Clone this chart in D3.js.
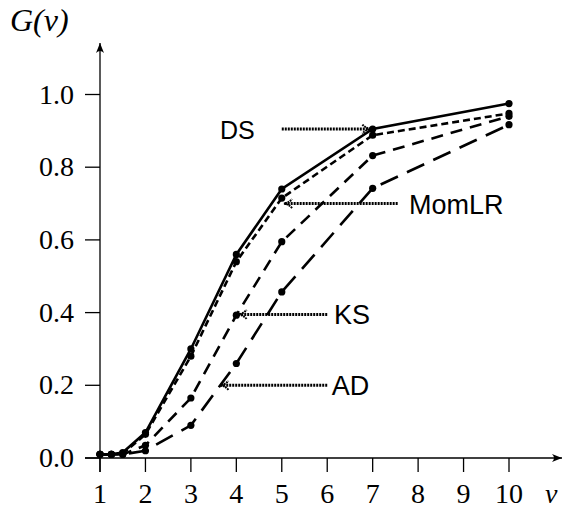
<!DOCTYPE html>
<html>
<head>
<meta charset="UTF-8">
<script src="https://d3js.org/d3.v7.min.js"></script>
<style>
  body { margin: 0; background: white; }
</style>
</head>
<body>
<svg id="chart"></svg>
<script>
// values
const vValues = [1, 1.25, 1.5, 2, 3, 4, 5, 7, 10];
const dsValues    = [0.01, 0.01, 0.015, 0.07, 0.30, 0.56, 0.74, 0.905, 0.975];
const momlrValues = [0.01, 0.01, 0.012, 0.065, 0.28, 0.54, 0.715, 0.888, 0.948];
const ksValues    = [0.01, 0.01, 0.01, 0.035, 0.165, 0.393, 0.595, 0.832, 0.94];
const adValues    = [0.01, 0.01, 0.01, 0.02, 0.09, 0.26, 0.457, 0.742, 0.917];
const seriesNames = ["DS", "MomLR", "KS", "AD"];
const xTicks = [1, 2, 3, 4, 5, 6, 7, 8, 9, 10];
const yTicks = [0, 0.2, 0.4, 0.6, 0.8, 1.0];

// label annotations: text, label x, arrow start x, arrow end x, y (data units)
const noteLabels = ["DS", "MomLR", "KS", "AD"];
const noteLabelX = [3.64, 7.8, 6.15, 6.1];
const noteFromX  = [5.0, 7.55, 6.0, 6.0];
const noteToX    = [6.95, 5.05, 4.05, 3.65];
const noteY      = [0.905, 0.70, 0.395, 0.20];

const width = 563, height = 511;
const svg = d3.select("#chart").attr("width", width).attr("height", height);

const x = d3.scaleLinear().domain([1, 10]).range([100, 509]);
const y = d3.scaleLinear().domain([0, 1]).range([458, 94.5]);

const dashes = ["none", "7,4", "12,8", "19,10"];
const allSeries = [dsValues, momlrValues, ksValues, adValues];

// arrow markers
const defs = svg.append("defs");
defs.append("marker")
  .attr("id", "tip")
  .attr("viewBox", "0 0 12 12")
  .attr("refX", 11).attr("refY", 6)
  .attr("markerWidth", 12).attr("markerHeight", 12)
  .attr("markerUnits", "userSpaceOnUse")
  .attr("orient", "auto")
  .append("path")
  .attr("d", "M3,1.5 Q6,5 11,6 Q6,7 3,10.5")
  .attr("fill", "none")
  .attr("stroke", "black")
  .attr("stroke-width", 2)
  .attr("stroke-dasharray", "1.8,0.8");
defs.append("marker")
  .attr("id", "axisTip")
  .attr("viewBox", "0 0 10 10")
  .attr("refX", 10).attr("refY", 5)
  .attr("markerWidth", 10).attr("markerHeight", 10)
  .attr("markerUnits", "userSpaceOnUse")
  .attr("orient", "auto")
  .append("path")
  .attr("d", "M0,1 Q4,5 0,9 L10,5 Z")
  .attr("fill", "black");

// axes
svg.append("line")
  .attr("x1", 85).attr("x2", 562)
  .attr("y1", y(0)).attr("y2", y(0))
  .attr("stroke", "black").attr("stroke-width", 1.3)
  .attr("marker-end", "url(#axisTip)");
svg.append("line")
  .attr("x1", x(1)).attr("x2", x(1))
  .attr("y1", 472).attr("y2", 43)
  .attr("stroke", "black").attr("stroke-width", 1.3)
  .attr("marker-end", "url(#axisTip)");

svg.selectAll(".xtick").data(xTicks).enter().append("line")
  .attr("x1", d => x(d)).attr("x2", d => x(d))
  .attr("y1", y(0)).attr("y2", y(0) + 14)
  .attr("stroke", "black").attr("stroke-width", 1.3);
svg.selectAll(".xlab").data(xTicks).enter().append("text")
  .attr("x", d => x(d)).attr("y", 503)
  .attr("text-anchor", "middle")
  .attr("font-family", "Liberation Serif, serif")
  .attr("font-size", "28px")
  .text(d => d);

svg.selectAll(".ytick").data(yTicks).enter().append("line")
  .attr("x1", x(1) - 15).attr("x2", x(1))
  .attr("y1", d => y(d)).attr("y2", d => y(d))
  .attr("stroke", "black").attr("stroke-width", 1.3);
svg.selectAll(".ylab").data(yTicks).enter().append("text")
  .attr("x", 74).attr("y", d => y(d) + 9)
  .attr("text-anchor", "end")
  .attr("font-family", "Liberation Serif, serif")
  .attr("font-size", "28px")
  .text(d => d.toFixed(1));

svg.append("text")
  .attr("x", 10).attr("y", 31)
  .attr("font-family", "Liberation Serif, serif")
  .attr("font-style", "italic")
  .attr("font-size", "32px")
  .text("G(v)");
svg.append("text")
  .attr("x", 545).attr("y", 503)
  .attr("font-family", "Liberation Serif, serif")
  .attr("font-style", "italic")
  .attr("font-size", "28px")
  .text("v");

// series
const line = d3.line().x((d, i) => x(vValues[i])).y(d => y(d));
allSeries.forEach((vals, k) => {
  svg.append("path")
    .datum(vals)
    .attr("d", line)
    .attr("fill", "none")
    .attr("stroke", "black")
    .attr("stroke-width", 2.6)
    .attr("stroke-dasharray", dashes[k])
    .attr("class", seriesNames[k]);
  svg.selectAll(".dot" + k).data(vals).enter().append("circle")
    .attr("cx", (d, i) => x(vValues[i]))
    .attr("cy", d => y(d))
    .attr("r", 3.6)
    .attr("fill", "black");
});

// annotations
noteLabels.forEach((lab, k) => {
  svg.append("line")
    .attr("x1", x(noteFromX[k])).attr("x2", x(noteToX[k]))
    .attr("y1", y(noteY[k])).attr("y2", y(noteY[k]))
    .attr("stroke", "black")
    .attr("stroke-width", 3)
    .attr("stroke-dasharray", "2,1")
    .attr("marker-end", "url(#tip)");
  svg.append("text")
    .attr("x", x(noteLabelX[k])).attr("y", y(noteY[k]) + 10)
    .attr("font-family", "Liberation Sans, sans-serif")
    .attr("font-size", k === 0 ? "25px" : "27px")
    .text(lab);
});
</script>
</body>
</html>
